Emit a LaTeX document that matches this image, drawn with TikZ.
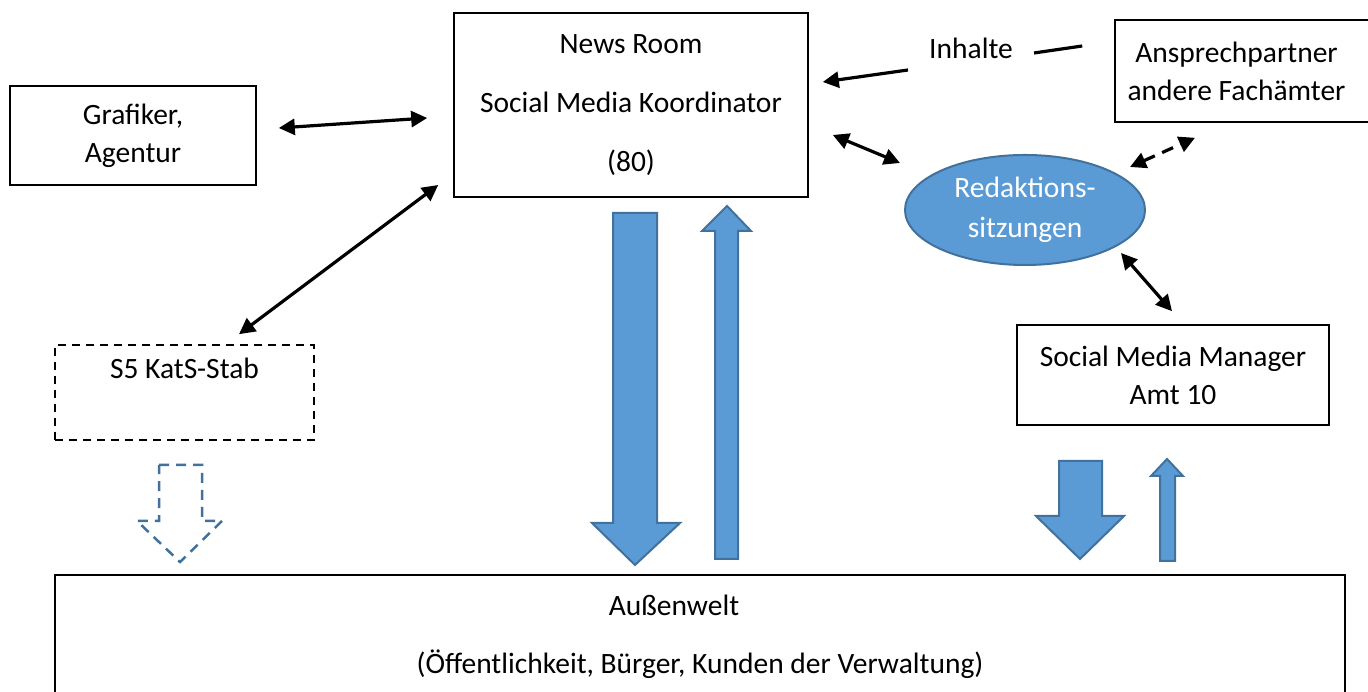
\documentclass[tikz,border=0pt]{standalone}
\usepackage{fontspec}
\setmainfont{Carlito}
\usetikzlibrary{arrows.meta,shapes.geometric}
\definecolor{blockFill}{RGB}{91,155,213}
\definecolor{blockDraw}{RGB}{65,113,156}
\tikzset{
  box/.style={draw=black,line width=1.6pt,align=center,inner sep=0pt},
  txt/.style={align=center,inner sep=0pt},
  link/.style={line width=3.2pt,{Triangle[length=16pt,width=16pt]}-{Triangle[length=16pt,width=16pt]}},
  blockarrow/.style={fill=blockFill,draw=blockDraw,line width=2pt,line join=miter}
}
\begin{document}
\begin{tikzpicture}[x=1pt,y=1pt,font=\fontsize{29.5}{38}\selectfont]
\path[use as bounding box,fill=white] (0,0) rectangle (1368,692);
\begin{scope}
\path[clip] (0,0) rectangle (1368,692);

% boxes
\node[box,minimum width=354,minimum height=184] (news) at (631,587)
  {News Room\\[21pt]Social Media Koordinator\\[21pt](80)};
\node[box,minimum width=246,minimum height=99] (graf) at (133,556.5) {Grafiker,\\Agentur};
\node[box,dashed,dash pattern=on 8pt off 6pt,minimum width=259,minimum height=95] (s5) at (184.5,299.5)
  {S5 KatS-Stab\\\strut};
\node[box,minimum width=265,minimum height=102] (ansp) at (1247.5,621)
  {Ansprechpartner\hspace*{22pt}\\andere Fachämter\hspace*{22pt}};
\node[box,minimum width=312,minimum height=100] (smm) at (1173,317) {Social Media Manager\\Amt 10};
\node[ellipse,fill=blockFill,draw=blockDraw,line width=2pt,minimum width=240,minimum height=110,
  align=center,inner sep=0pt,text=white] (ell) at (1025,482) {Redaktions-\\[2pt]sitzungen};
\node[txt] (inh) at (971,644) {Inhalte};
\node[box,minimum width=1290,minimum height=124] (welt) at (700,55)
  {Außenwelt\hspace*{52pt}\\[20pt](Öffentlichkeit, Bürger, Kunden der Verwaltung)};

% connectors
\draw[link] ([shift={(22,7.5)}]graf.east) -- ([shift={(-26,-13)}]news.west);
\draw[link] ([shift={(-15,-80)}]news.west) -- ([shift={(54.5,10)}]s5.north);
\draw[link] ([shift={(24,-30)}]news.east) -- ([shift={(-125,47)}]ell.center);
\draw[link] ([shift={(96,-43)}]ell.center) -- ([shift={(-1,13)}]smm.north);
\draw[link,dash pattern=on 12pt off 8pt] ([shift={(105,43)}]ell.center) -- ([shift={(-52.5,-15)}]ansp.south);
\draw[line width=3.2pt,-{Triangle[length=16pt,width=16pt]}] ([shift={(-63,-22)}]inh.center) -- ([shift={(14,23)}]news.east);
\draw[line width=3.2pt] ([shift={(-32,25)}]ansp.west) -- ([shift={(63,-5)}]inh.center);

% block arrows
\path[blockarrow] (613,479) -- (657,479) -- (657,169) -- (680,169) -- (635,127) -- (592,169) -- (613,169) -- cycle;
\path[blockarrow] (715,133) -- (738,133) -- (738,461) -- (751,461) -- (727,486) -- (702,461) -- (715,461) -- cycle;
\path[blockarrow] (1059,231) -- (1102,231) -- (1102,176) -- (1124,176) -- (1080,133) -- (1036,176) -- (1059,176) -- cycle;
\path[blockarrow] (1160,131) -- (1175,131) -- (1175,216) -- (1183,216) -- (1167,233) -- (1151,216) -- (1160,216) -- cycle;
\path[draw=blockDraw,line width=2.5pt,dash pattern=on 10pt off 7pt] (159,227) -- (202,227) -- (202,171) -- (222,171) -- (180,130) -- (137,171) -- (159,171) -- cycle;
\end{scope}
\end{tikzpicture}
\end{document}
